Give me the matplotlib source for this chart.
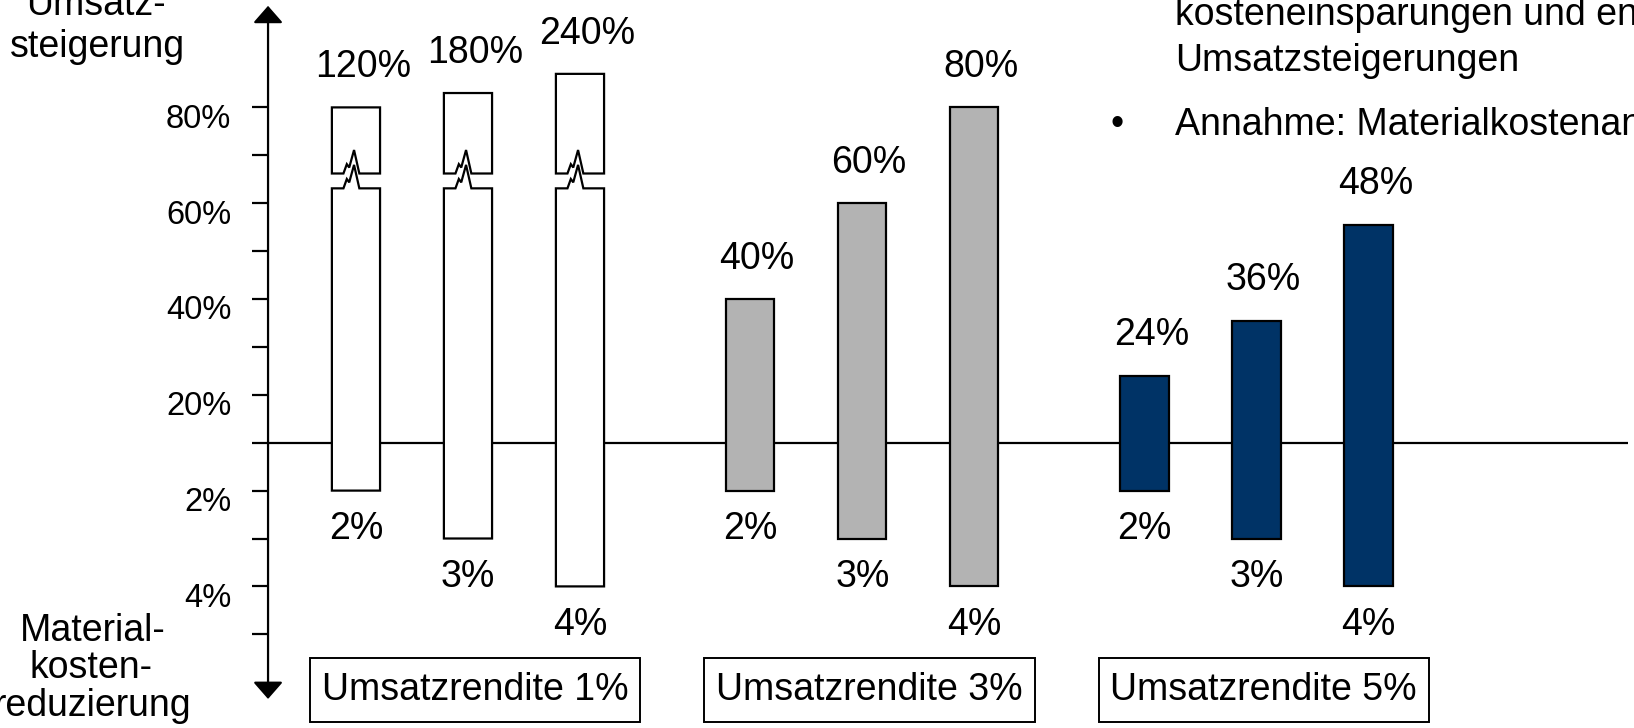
import matplotlib
matplotlib.use('Agg')
import matplotlib.pyplot as plt
from matplotlib.patches import Polygon, Rectangle
from matplotlib.transforms import ScaledTranslation

plt.rcParams['font.family'] = ['Liberation Sans', 'DejaVu Sans']

# data
gruppen = ['Umsatzrendite 1%', 'Umsatzrendite 3%', 'Umsatzrendite 5%']
umsatz_werte = [[120, 180, 240], [40, 60, 80], [24, 36, 48]]      # labels
umsatz_hoehe = [[80, 83, 87], [40, 60, 80], [24, 35.5, 55.5]]     # drawn bar tops
gebrochen = [True, False, False]                                  # broken bars (group 1)
material = [2, 3, 4]
farben = ['white', '#b3b3b3', '#003366']

upper_ticks = [20, 40, 60, 80]
lower_ticks = [2, 4]

BASE = 10        # baseline sits at "10%" of the upper scale
GROUP_STEP = 3.52
BAR_W = 0.43
BREAK_LO, BREAK_HI = 63.1, 66.2
AX_X = -0.785
FS = 27


def mat_y(m):
    # lower half: 1% at baseline, 10 units per %
    return BASE - (m - 1) * 10


fig = plt.figure(figsize=(16.34, 7.28), dpi=100)
ax = fig.add_axes([0, 0, 1, 1])
ax.set_xlim(-3.178, 11.41)
ax.set_ylim(-49.56, 102.42)
for s in ['top', 'right', 'bottom', 'left']:
    ax.spines[s].set_visible(False)
ax.spines['left'].set_position(('data', AX_X))
ax.set_xticks([])

# baseline
ax.plot([-0.928, 11.36], [BASE, BASE], color='k', lw=1.6, zorder=1, solid_capstyle='butt')

# y axis with arrows
ax.annotate('', xy=(AX_X, 101.2), xytext=(AX_X, -43.5),
            arrowprops=dict(arrowstyle='<|-|>,head_length=10.5,head_width=9.2',
                            mutation_scale=1, lw=1.6, color='k',
                            shrinkA=0, shrinkB=0))

maj = upper_ticks + [mat_y(m) for m in lower_ticks]
ax.set_yticks(maj, ['%d%%' % t for t in upper_ticks] + ['%d%%' % m for m in lower_ticks])
ax.set_yticks([30, 50, 70, mat_y(3), mat_y(5)], minor=True)
ax.tick_params(axis='y', which='both', direction='out', length=11.5, width=1.6,
               color='k', labelsize=23.5, pad=15)
off = ScaledTranslation(0, -6 / 72, fig.dpi_scale_trans)
for lbl in ax.get_yticklabels():
    lbl.set_transform(lbl.get_transform() + off)

jag = [(0.24, 0), (0.31, 1.95), (0.36, 1.25), (0.46, 4.9), (0.57, 0)]

for g in range(len(gruppen)):
    for i in range(3):
        x = g * GROUP_STEP + i
        top = umsatz_hoehe[g][i]
        bot = mat_y(material[i])
        lab = umsatz_werte[g][i]
        L, R = x - BAR_W / 2, x + BAR_W / 2
        if gebrochen[g]:
            lo = [(L, bot), (R, bot), (R, BREAK_LO)]
            for fx, dy in reversed(jag):
                lo.append((L + fx * BAR_W, BREAK_LO + dy))
            lo.append((L, BREAK_LO))
            hi = [(L, BREAK_HI)]
            for fx, dy in jag:
                hi.append((L + fx * BAR_W, BREAK_HI + dy))
            hi += [(R, BREAK_HI), (R, top), (L, top)]
            for pts in (lo, hi):
                ax.add_patch(Polygon(pts, closed=True, facecolor=farben[g],
                                     edgecolor='k', lw=1.6, zorder=2, joinstyle='miter'))
        else:
            ax.bar(x, top - bot, bottom=bot, width=BAR_W, color=farben[g],
                   edgecolor='k', lw=1.6, zorder=2)
        ax.annotate('%d%%' % lab, xy=(x, top), xytext=(5, 29), textcoords='offset points',
                    ha='center', va='center', fontsize=FS)
        ax.annotate('%d%%' % material[i], xy=(x, bot), xytext=(0, -28),
                    textcoords='offset points', ha='center', va='center', fontsize=FS)
    # group box
    gx = g * GROUP_STEP
    ax.add_patch(Rectangle((gx - 0.41, -48.3), 2.95, 13.25, facecolor='white',
                           edgecolor='k', lw=1.4, zorder=2))
    ax.text(gx - 0.41 + 2.95 / 2, -41.7, gruppen[g], ha='center', va='center',
            fontsize=FS, zorder=3)

W, H = 1634.0, 728.0


def ftxt(x, y, s, **kw):
    fig.text(x / W, 1 - y / H, s, fontsize=FS, va='baseline', **kw)


ftxt(96, 15, 'Umsatz-', ha='center')
ftxt(97, 57, 'steigerung', ha='center')
ftxt(93, 641, 'Material-', ha='center')
ftxt(91, 678, 'kosten-', ha='center')
ftxt(92, 716, 'reduzierung', ha='center')

ftxt(1175, 25, 'kosteneinsparungen und entsprechenden', ha='left')
ftxt(1175, 71, 'Umsatzsteigerungen', ha='left')
ftxt(1117, 135, '•', ha='center')
ftxt(1175, 135, 'Annahme: Materialkostenanteil', ha='left')

fig.savefig('out.png', dpi=100)
